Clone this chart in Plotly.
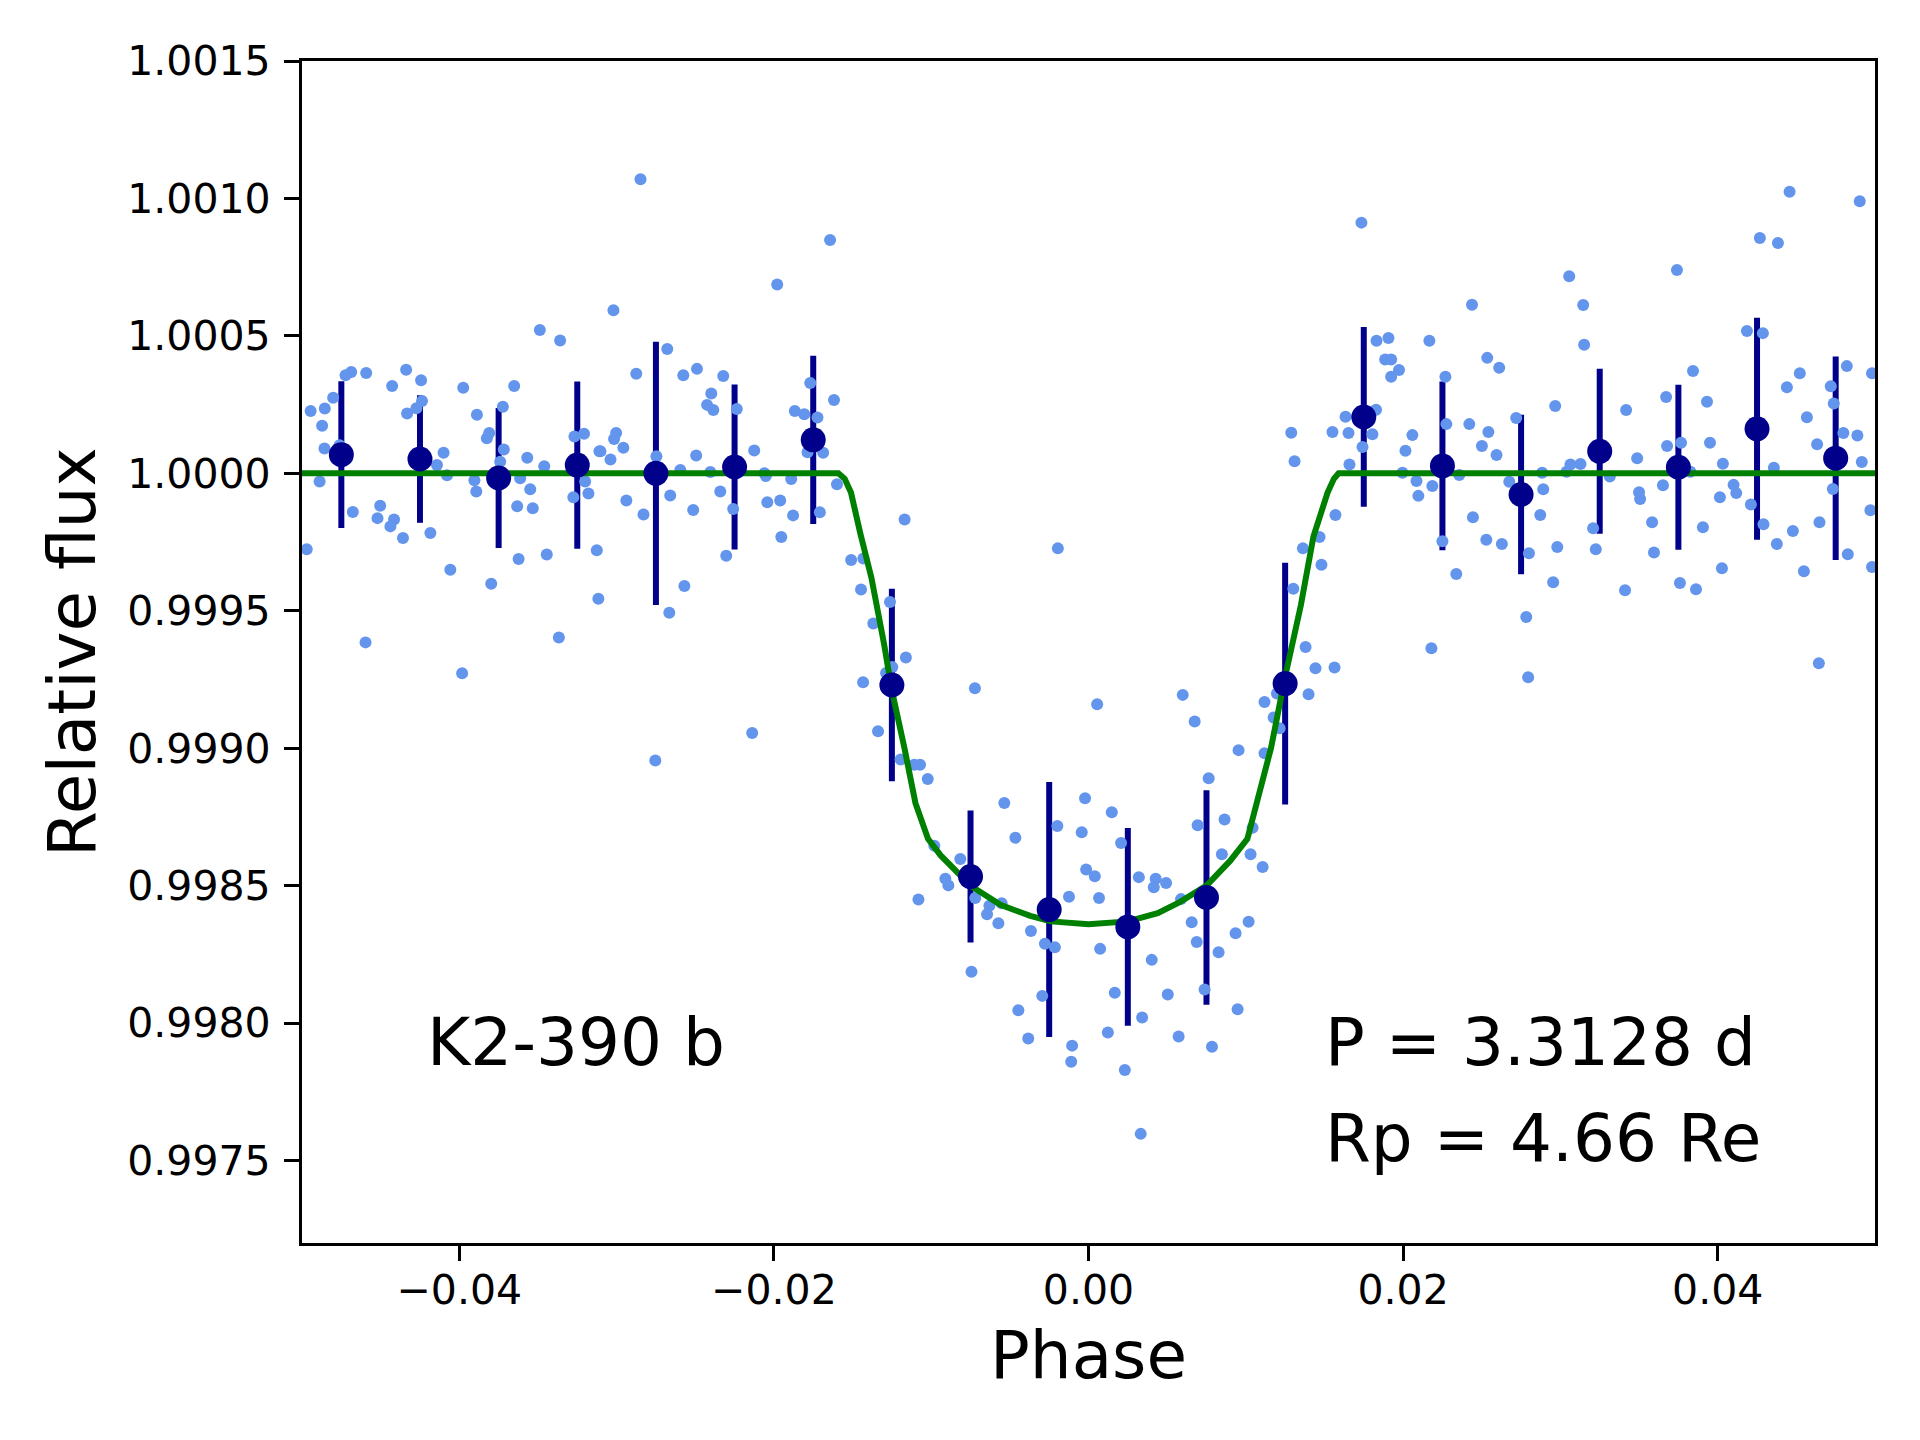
import plotly.graph_objects as go

# phase-folded light curve of K2-390 b

# unbinned photometry (phase, relative flux)
phase = [
    -0.04945, -0.04855, -0.04872, -0.04802, -0.04723, -0.04687, -0.04592, -0.04857, -0.04888, -0.04761,
    -0.04677, -0.04970, -0.04503, -0.04520, -0.04415, -0.04438, -0.04358, -0.04427, -0.04338, -0.04243,
    -0.04332, -0.04273, -0.04237, -0.04100, -0.04142, -0.04078, -0.04184, -0.04057, -0.04596, -0.03975,
    -0.03888, -0.03810, -0.03825, -0.03723, -0.03651, -0.03717, -0.03740, -0.03904, -0.03892, -0.03797,
    -0.03982, -0.03568, -0.03460, -0.03613, -0.03549, -0.03632, -0.03533, -0.03623, -0.03444, -0.03488,
    -0.03359, -0.03367, -0.03268, -0.03207, -0.03200, -0.03179, -0.03275, -0.03109, -0.03126, -0.03116,
    -0.02848, -0.03020, -0.01643, -0.01979, -0.02678, -0.02875, -0.02576, -0.02489, -0.02322, -0.02398,
    -0.02425, -0.02385, -0.02236, -0.03003, -0.03016, -0.02957, -0.03103, -0.03039, -0.02747, -0.02595,
    -0.02494, -0.02404, -0.02125, -0.02060, -0.02051, -0.01890, -0.01867, -0.01807, -0.01723, -0.01769,
    -0.01618, -0.01786, -0.01687, -0.01599, -0.02938, -0.02829, -0.02659, -0.02513, -0.02341, -0.02259,
    -0.02042, -0.01960, -0.01878, -0.01708, -0.01953, -0.02303, -0.02569, -0.02665, -0.02754, -0.02138,
    -0.01169, -0.01509, -0.01431, -0.01446, -0.01368, -0.01262, -0.01161, -0.01247, -0.01287, -0.01433,
    -0.01338, -0.01194,
    -0.01108, -0.01071, -0.01022, -0.00722, -0.00195, 0.00055, -0.00980, -0.00910, -0.00891, -0.01081,
    -0.00815, -0.00720, -0.00630, -0.00645, -0.00573, -0.00552, -0.00535, -0.00465, -0.00744, -0.00366,
    -0.00277, -0.00214, -0.00294, -0.00446, -0.00383, -0.00104, -0.00110, -0.00198, -0.00124, -0.00022,
    -0.00043, -0.00015, 0.00040, 0.00067, 0.00074,
    0.01289, 0.01310, 0.01302, 0.00599, 0.00675, 0.01119, 0.01177, 0.01215, 0.01198, 0.00954,
    0.01119, 0.00764, 0.00148, 0.00207, 0.00694, 0.00865, 0.01043, 0.00848, 0.01030, 0.01107,
    0.00320, 0.00415, 0.00427, 0.00493, 0.00588, 0.00656, 0.00688, 0.00827, 0.00935, 0.01018,
    0.00402, 0.00167, 0.00504, 0.00738, 0.00341, 0.00123, 0.00573, 0.00785, 0.00948, 0.00231,
    0.00332,
    0.01735, 0.01831, 0.01907, 0.01886, 0.01924, 0.01974, 0.01924, 0.01828, 0.01634, 0.01551,
    0.01653, 0.01805, 0.01742, 0.01659, 0.01570, 0.01469, 0.01363, 0.01481, 0.01380, 0.01443,
    0.01564, 0.01399, 0.02059, 0.02015, 0.01996, 0.02085, 0.02097, 0.02186, 0.02167, 0.02269,
    0.02275, 0.02421, 0.02542, 0.02501, 0.02594, 0.02357, 0.02438, 0.02535, 0.02611, 0.02250,
    0.02338, 0.02444, 0.02529, 0.02628, 0.02180, 0.02719, 0.02675, 0.02884, 0.02891, 0.02872,
    0.02800, 0.02980, 0.02954, 0.02783, 0.02795, 0.02967, 0.03056, 0.03145, 0.03151, 0.03039,
    0.03064, 0.03128,
    0.03208, 0.03225, 0.03314, 0.03418, 0.03488, 0.03500, 0.03507, 0.03583, 0.03595, 0.03411,
    0.03652, 0.03672, 0.03678, 0.03767, 0.03741, 0.03843, 0.03932, 0.03951, 0.03826, 0.03906,
    0.03760, 0.03862, 0.04027, 0.04014, 0.04033, 0.04101, 0.04118, 0.04186, 0.04287, 0.04268,
    0.04383, 0.04457, 0.04211, 0.04291, 0.04357, 0.04376, 0.04478, 0.04548, 0.04440, 0.04522,
    0.04567, 0.04632, 0.04647, 0.04643, 0.04719, 0.04738, 0.04732, 0.04799, 0.04888, 0.04821,
    0.04916, 0.04827, 0.04903, 0.04971, 0.04981, 0.04981,
]
flux = [
    1.000227, 1.000236, 1.000173, 1.000275, 1.000357, 1.000369, 1.000365, 1.000090, 0.999970, 1.000102,
    0.999859, 0.999724, 0.999882, 0.999837, 0.999832, 0.999807, 0.999765, 1.000318, 1.000377, 1.000339,
    1.000218, 1.000237, 1.000263, 1.000075, 1.000030, 0.999993, 0.999783, 0.999649, 0.999385, 1.000311,
    1.000213, 1.000147, 1.000128, 1.000242, 1.000318, 1.000087, 1.000042, 0.999975, 0.999934, 0.999598,
    0.999273, 1.000057, 1.000026, 0.999982, 0.999942, 0.999880, 0.999873, 0.999688, 0.999705, 1.000521,
    1.000483, 0.999403, 1.000134, 1.000144, 0.999970, 0.999927, 0.999913, 1.000080, 0.999720, 0.999544,
    1.001070, 1.000593, 1.000849, 1.000687, 1.000452, 1.000362, 1.000357, 1.000380, 1.000354, 1.000290,
    1.000249, 1.000230, 1.000234, 1.000147, 1.000125, 1.000093, 1.000080, 1.000050, 1.000062, 1.000012,
    1.000065, 1.000005, 1.000083, 1.000000, 0.999990, 0.999979, 1.000227, 1.000215, 1.000203, 1.000329,
    1.000267, 1.000077, 1.000075, 0.999960, 0.999901, 0.999850, 0.999919, 0.999867, 0.999934, 0.999870,
    0.999895, 0.999901, 0.999847, 0.999858, 0.999768, 0.999700, 0.999590, 0.999493, 0.998955, 0.999055,
    0.999832, 0.999685, 0.999690, 0.999577, 0.999454, 0.999532, 0.999330, 0.999295, 0.999274, 0.999240,
    0.999062, 0.998959,
    0.998940, 0.998940, 0.998888, 0.999218, 0.999727, 0.999160, 0.998645, 0.998525, 0.998501, 0.998450,
    0.998597, 0.998455, 0.998427, 0.998396, 0.998363, 0.998436, 0.998801, 0.998674, 0.998187, 0.998335,
    0.998289, 0.998276, 0.998099, 0.998047, 0.997944, 0.997918, 0.997859, 0.998717, 0.998460, 0.998818,
    0.998694, 0.998559, 0.998534, 0.998455, 0.998270,
    1.000148, 1.000044, 0.999580, 0.999194, 0.999097, 0.999168, 0.999112, 0.999073, 0.999199, 0.998993,
    0.998982, 0.998891, 0.998767, 0.998655, 0.998720, 0.998741, 0.998711, 0.998614, 0.998614, 0.998568,
    0.998531, 0.998494, 0.998525, 0.998510, 0.998451, 0.998367, 0.998295, 0.998258, 0.998327, 0.998369,
    0.998230, 0.998110, 0.998104, 0.998122, 0.998020, 0.997966, 0.997951, 0.997914, 0.998050, 0.997829,
    0.997597,
    1.000912, 1.000482, 1.000492, 1.000414, 1.000414, 1.000376, 1.000351, 1.000231, 1.000206, 1.000150,
    1.000147, 1.000142, 1.000096, 1.000032, 0.999848, 0.999768, 0.999727, 0.999667, 0.999368, 0.999291,
    0.999294, 0.999196, 1.000139, 1.000082, 1.000002, 0.999972, 0.999918, 0.999954, 1.000482, 1.000351,
    1.000179, 1.000179, 1.000150, 1.000099, 1.000067, 0.999994, 1.000613, 1.000420, 1.000384, 0.999753,
    0.999634, 0.999840, 0.999758, 0.999743, 0.999364, 1.000201, 0.999969, 1.000002, 0.999942, 0.999848,
    0.999709, 0.999732, 0.999604, 0.999477, 0.999258, 1.000245, 1.000717, 1.000612, 1.000468, 1.000006,
    1.000032, 1.000034,
    0.999800, 0.999724, 0.999988, 1.000230, 1.000055, 0.999931, 0.999907, 0.999822, 0.999712, 0.999575,
    0.999957, 1.000278, 1.000099, 1.000111, 1.000740, 1.000372, 1.000260, 1.000111, 1.000006, 0.999804,
    0.999601, 0.999578, 0.999655, 0.999913, 1.000035, 0.999958, 0.999928, 1.000518, 1.000510, 1.000856,
    1.000838, 1.001024, 0.999887, 0.999815, 1.000020, 0.999743, 0.999790, 0.999644, 1.000313, 1.000364,
    1.000204, 1.000106, 0.999822, 0.999309, 1.000317, 1.000254, 0.999943, 1.000147, 1.000138, 1.000390,
    1.000041, 0.999706, 1.000990, 0.999866, 1.000364, 0.999659,
]

# binned points
bin_phase = [-0.0475, -0.0425, -0.0375, -0.0325, -0.0275, -0.0225, -0.0175, -0.0125, -0.0075, -0.0025,
             0.0025, 0.0075, 0.0125, 0.0175, 0.0225, 0.0275, 0.0325, 0.0375, 0.0425, 0.0475]
bin_flux = [1.000068, 1.000052, 0.999983, 1.000030, 1.000000, 1.000023, 1.000122, 0.999230, 0.998533, 0.998413,
            0.998350, 0.998457, 0.999235, 1.000205, 1.000027, 0.999923, 1.000080, 1.000022, 1.000162, 1.000055]
bin_err = [0.000267, 0.000232, 0.000255, 0.000304, 0.000479, 0.000300, 0.000306, 0.000350, 0.000240, 0.000464,
           0.000360, 0.000390, 0.000440, 0.000327, 0.000307, 0.000290, 0.000300, 0.000300, 0.000404, 0.000370]

# transit model
model_phase = [-0.05, -0.0159, -0.0155, -0.0151, -0.0145, -0.0138, -0.0130, -0.0125, -0.0117, -0.0110,
               -0.0102, -0.0094, -0.0075, -0.0056, -0.0037, -0.0024, 0.0, 0.0025, 0.0044, 0.0058,
               0.0075, 0.0090, 0.0101, 0.0107, 0.0116, 0.0125, 0.0135, 0.0143, 0.0152, 0.0156,
               0.0159, 0.05]
model_flux = [1.0, 1.0, 0.99998, 0.99993, 0.99978, 0.99962, 0.99938, 0.99921, 0.99900, 0.99880,
              0.99867, 0.99861, 0.99850, 0.99843, 0.99839, 0.99837, 0.99836, 0.99837, 0.99840, 0.99844,
              0.99850, 0.99859, 0.99867, 0.99880, 0.99900, 0.99926, 0.99952, 0.99977, 0.99993, 0.99998,
              1.0, 1.0]

xticks = [-0.04, -0.02, 0.0, 0.02, 0.04]
xticklabels = ["\u22120.04", "\u22120.02", "0.00", "0.02", "0.04"]
yticks = [0.9975, 0.9980, 0.9985, 0.9990, 0.9995, 1.0000, 1.0005, 1.0010, 1.0015]
yticklabels = ["0.9975", "0.9980", "0.9985", "0.9990", "0.9995", "1.0000", "1.0005", "1.0010", "1.0015"]

FONT = "DejaVu Sans"

fig = go.Figure()

# error bars first (no visible markers)
fig.add_trace(go.Scatter(
    x=bin_phase, y=bin_flux, mode="markers",
    marker=dict(size=1, color="rgba(0,0,0,0)"),
    error_y=dict(type="data", array=bin_err, color="#00008B", thickness=6, width=0),
    showlegend=False, hoverinfo="skip",
))
fig.add_trace(go.Scatter(
    x=phase, y=flux, mode="markers",
    marker=dict(size=12, color="#6495ED", line=dict(width=0)),
    showlegend=False,
))
fig.add_trace(go.Scatter(
    x=model_phase, y=model_flux, mode="lines",
    line=dict(color="#008000", width=6),
    showlegend=False,
))
fig.add_trace(go.Scatter(
    x=bin_phase, y=bin_flux, mode="markers",
    marker=dict(size=25, color="#00008B", line=dict(width=0)),
    showlegend=False,
))

axis_common = dict(
    showgrid=False, zeroline=False,
    showline=True, linecolor="black", linewidth=3.3, mirror=True,
    ticks="outside", ticklen=15, tickwidth=3.3, tickcolor="black",
    tickfont=dict(family=FONT, size=41, color="black"),
)

fig.update_xaxes(range=[-0.05, 0.05], tickvals=xticks, ticktext=xticklabels,
                 ticklabelstandoff=-6, **axis_common)
fig.update_yaxes(range=[0.9972, 1.0015], tickvals=yticks, ticktext=yticklabels,
                 ticklabelstandoff=5, **axis_common)

txt = dict(family=FONT, size=66, color="black")
fig.add_annotation(x=-0.0422, y=0.99793, xref="x", yref="y", text="K2-390 b",
                   showarrow=False, xanchor="left", yanchor="middle", font=txt)
fig.add_annotation(x=0.0149, y=0.99793, xref="x", yref="y", text="P = 3.3128 d",
                   showarrow=False, xanchor="left", yanchor="middle", font=txt)
fig.add_annotation(x=0.0149, y=0.99758, xref="x", yref="y", text="Rp = 4.66 Re",
                   showarrow=False, xanchor="left", yanchor="middle", font=txt)

# axis titles
fig.add_annotation(x=0.5, y=-0.0951, xref="paper", yref="paper", text="Phase",
                   showarrow=False, xanchor="center", yanchor="middle", font=txt)
fig.add_annotation(x=-0.1462, y=0.5, xref="paper", yref="paper", text="Relative flux",
                   showarrow=False, xanchor="center", yanchor="middle", textangle=-90, font=txt)

# page body adds an 8px offset, so the plot area is shifted up/left by 8px
fig.update_layout(
    width=1920, height=1440,
    margin=dict(l=294, r=53, t=53, b=205),
    paper_bgcolor="white", plot_bgcolor="white",
    font=dict(family=FONT, color="black"),
)

fig.write_html("out.html")
